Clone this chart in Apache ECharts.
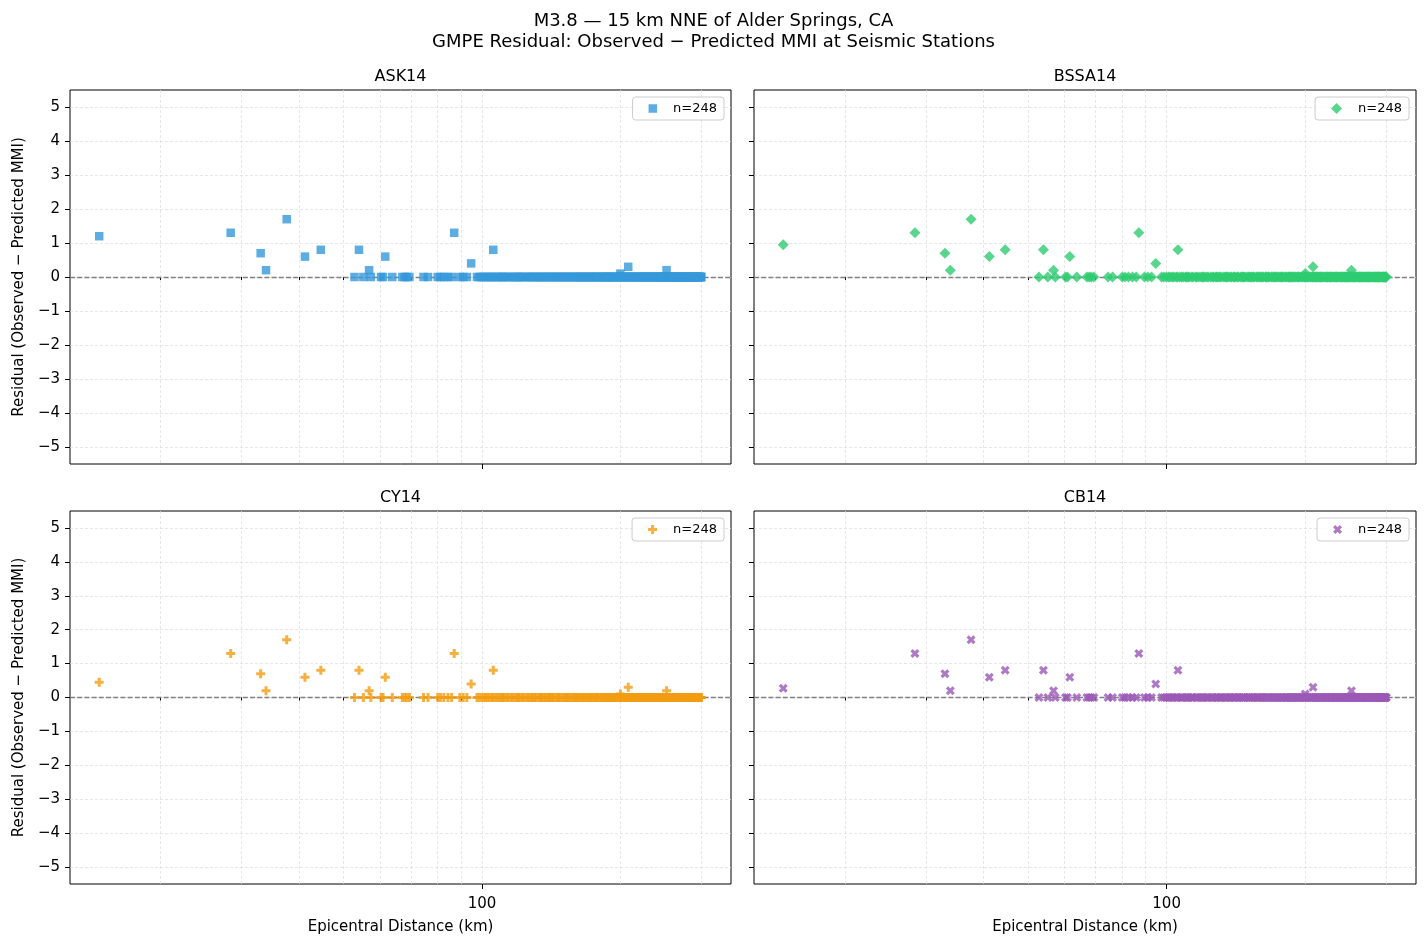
<!DOCTYPE html>
<html>
<head>
<meta charset="utf-8">
<title>GMPE Residuals</title>
<script src="https://cdn.jsdelivr.net/npm/echarts@6/dist/echarts.min.js"></script>
<style>
  html, body { margin: 0; padding: 0; background: #fff; }
  #chart { width: 1427px; height: 947px; }
</style>
</head>
<body>
<div id="chart"></div>
<script>
// panels, in reading order
var models = ['ASK14', 'BSSA14', 'CY14', 'CB14'];
var colors = ['#3498db', '#2ecc71', '#f39c12', '#9b59b6'];

// stations with a non-zero residual: epicentral distance (km)
var outlierDist = [14.7, 28.4, 33.0, 33.9, 37.6, 41.2, 44.6, 54.0, 56.8, 61.6, 87.0, 94.7, 105.8, 200.0, 208.0, 252.0];
// residual (observed - predicted MMI) at those stations, per model
var askResid  = [1.2, 1.3, 0.7, 0.2, 1.7, 0.6, 0.8, 0.8, 0.2, 0.6, 1.3, 0.4, 0.8, 0.1, 0.3, 0.2];
var bssaResid = [0.95, 1.3, 0.7, 0.2, 1.7, 0.6, 0.8, 0.8, 0.2, 0.6, 1.3, 0.4, 0.8, 0.1, 0.3, 0.2];
var cyResid   = [0.45, 1.3, 0.7, 0.2, 1.7, 0.6, 0.8, 0.8, 0.2, 0.6, 1.3, 0.4, 0.8, 0.1, 0.3, 0.2];
var cbResid   = [0.27, 1.3, 0.7, 0.2, 1.7, 0.6, 0.8, 0.8, 0.2, 0.6, 1.3, 0.4, 0.8, 0.1, 0.3, 0.2];

// stations where observed == predicted (residual 0), distance (km)
var zeroDist = [
  52.8, 55.2, 57.3, 60.3, 60.9, 63.8, 67.1, 67.9, 68.6, 69.5,
  74.6, 76.3, 80.1, 81.2, 82.6, 84.3, 85.9, 89.5, 91.0, 92.7,
  97.5, 98.6, 99.8, 100.9, 101.7, 102.8, 103.6, 104.9, 105.5, 106.7,
  107.8, 108.6, 109.9, 111.2, 112.0, 113.4, 114.1, 115.6, 116.3, 117.5,
  118.8, 119.6, 121.0, 122.3, 123.1, 124.6, 125.8, 126.5, 127.9, 129.2,
  130.4, 131.1, 132.7, 133.9, 134.6, 136.2, 137.5, 138.3, 139.8, 141.0,
  142.4, 143.1, 144.7, 145.9, 147.2, 148.0, 149.6, 150.8, 151.5, 153.1,
  154.4, 155.2, 156.9, 157.6, 158.8, 160.3, 161.5, 162.2, 163.9, 165.1,
  166.4, 167.0, 168.7, 169.5, 170.8, 172.3, 173.1, 174.6, 175.4, 176.9,
  178.2, 179.0, 180.5, 181.7, 182.4, 183.9, 185.2, 186.0, 187.6, 188.3,
  189.8, 190.5, 191.9, 193.2, 194.0, 195.6, 196.3, 197.8, 198.9, 199.7,
  201.2, 202.5, 203.3, 204.8, 205.6, 206.9, 208.1, 209.4, 210.2, 211.7,
  212.5, 213.8, 214.9, 216.3, 217.0, 218.6, 219.4, 220.7, 221.9, 222.6,
  224.0, 225.3, 226.1, 227.6, 228.4, 229.7, 230.9, 231.5, 232.8, 234.2,
  235.0, 236.4, 237.7, 238.5, 239.8, 241.2, 242.0, 243.5, 244.3, 245.8,
  246.6, 247.9, 249.1, 250.4, 251.2, 252.7, 253.5, 254.8, 256.1, 256.9,
  258.3, 259.0, 260.6, 261.4, 262.7, 263.9, 264.8, 266.1, 267.0, 268.4,
  269.2, 270.7, 271.5, 272.9, 273.6, 275.0, 275.8, 277.3, 278.1, 279.5,
  280.4, 281.6, 282.9, 283.7, 285.1, 285.9, 287.2, 288.0, 289.5, 290.3,
  291.6, 292.4, 293.8, 294.5, 295.9, 296.6, 297.8, 298.5, 299.4, 300.0,
  110.4, 120.2, 128.6, 135.1, 146.3, 152.7, 159.9, 164.5, 171.6, 177.4,
  184.6, 192.7, 200.4, 207.5, 215.6, 223.2, 233.6, 240.3, 248.7, 255.5,
  265.2, 274.3, 284.2, 296.1, 140.2, 187.0, 226.8, 262.0, 288.6, 298.9,
  211.0, 244.9
];

// tick positions
var xMajorTicks = [100];
var xMinorTicks = [20, 30, 40, 50, 60, 70, 80, 90, 200, 300];
var yTicks = [-5, -4, -3, -2, -1, 0, 1, 2, 3, 4, 5];

var residuals = [askResid, bssaResid, cyResid, cbResid];
var symbols = [
  'rect',
  'diamond',
  'path://M1,0H2V1H3V2H2V3H1V2H0V1H1Z',
  'path://M3,0L4,1L3,2L4,3L3,4L2,3L1,4L0,3L1,2L0,1L1,0L2,1Z'
];
var symbolSizes = [8.5, 11, 9, 9];

var FONT = "'DejaVu Sans', sans-serif";
var gridStyle = { color: '#dcdcdc', width: 0.7, type: [3, 2] };
var boxes = [
  { left: 70, top: 90, width: 661, height: 374 },
  { left: 754, top: 90, width: 662, height: 374 },
  { left: 70, top: 511, width: 661, height: 373 },
  { left: 754, top: 511, width: 662, height: 373 }
];

function minus(v) {
  return v < 0 ? '\u2212' + (-v) : String(v);
}

var chart = echarts.init(document.getElementById('chart'));

var grid = [], xAxis = [], yAxis = [], series = [], legend = [], graphic = [];

models.forEach(function (name, i) {
  var isBottom = i >= 2;
  var isLeft = i % 2 === 0;
  var b = boxes[i];

  grid.push({
    left: b.left, top: b.top, width: b.width, height: b.height,
    show: true, borderColor: '#000', borderWidth: 1,
    backgroundColor: 'transparent',
    containLabel: false, outerBoundsMode: 'none'
  });

  // minor ticks + minor grid lines
  xAxis.push({
    type: 'log', logBase: 10, gridIndex: i, position: 'bottom', min: 12.7, max: 348,
    axisLine: { show: false },
    axisTick: { show: true, customValues: xMinorTicks, length: 3, lineStyle: { color: '#000', width: 1 } },
    axisLabel: { show: false },
    splitLine: { show: true, lineStyle: gridStyle }
  });
  // major tick (100) + label
  xAxis.push({
    type: 'log', logBase: 10, gridIndex: i, position: 'bottom', min: 12.7, max: 348,
    axisLine: { show: false },
    axisTick: { show: true, customValues: xMajorTicks, length: 5, lineStyle: { color: '#000', width: 1 } },
    axisLabel: {
      show: isBottom, customValues: xMajorTicks, margin: 13,
      color: '#000', fontSize: 15, fontFamily: FONT
    },
    splitLine: { show: true, lineStyle: gridStyle },
    name: isBottom ? 'Epicentral Distance (km)' : '',
    nameLocation: 'middle', nameGap: 36,
    nameTextStyle: { color: '#000', fontSize: 15, fontFamily: FONT }
  });

  yAxis.push({
    type: 'value', gridIndex: i, position: 'left', min: -5.5, max: 5.5,
    axisLine: { show: false },
    axisTick: { show: true, customValues: yTicks, length: 5, lineStyle: { color: '#000', width: 1 } },
    axisLabel: {
      show: isLeft, customValues: yTicks, margin: 10, formatter: minus,
      color: '#000', fontSize: 15, fontFamily: FONT
    },
    splitLine: { show: true, lineStyle: gridStyle },
    name: isLeft ? 'Residual (Observed \u2212 Predicted MMI)' : '',
    nameLocation: 'middle', nameGap: 43,
    nameTextStyle: { color: '#000', fontSize: 15, fontFamily: FONT }
  });

  var data = outlierDist.map(function (d, k) { return [d, residuals[i][k]]; })
    .concat(zeroDist.map(function (d) { return [d, 0]; }));

  series.push({
    name: name,
    type: 'scatter',
    xAxisIndex: 2 * i,
    yAxisIndex: i,
    symbol: symbols[i],
    symbolSize: symbolSizes[i],
    itemStyle: { color: colors[i], opacity: 0.8 },
    z: 3,
    data: data,
    markLine: {
      silent: true, symbol: 'none', z: 1,
      label: { show: false },
      lineStyle: { color: '#808080', width: 1.3, type: [5, 2.2] },
      data: [{ yAxis: 0 }]
    }
  });

  legend.push({
    data: [{ name: name, icon: symbols[i] }],
    formatter: 'n=' + data.length,
    selectedMode: false,
    orient: 'horizontal',
    right: 1427 - (b.left + b.width - 7),
    top: b.top + 7,
    itemWidth: symbolSizes[i], itemHeight: symbolSizes[i],
    padding: [5, 7, 5, 16],
    backgroundColor: 'rgba(255,255,255,0.8)',
    borderColor: '#cccccc', borderWidth: 1, borderRadius: 3,
    textStyle: { color: '#000', fontSize: 13, fontFamily: FONT, padding: [0, 0, 0, 11] }
  });

  graphic.push({
    type: 'text',
    x: b.left + b.width / 2,
    y: b.top - 13,
    style: {
      text: name, fill: '#000', fontSize: 16, fontFamily: FONT,
      textAlign: 'center', textVerticalAlign: 'middle', verticalAlign: 'middle'
    }
  });
});

chart.setOption({
  animation: false,
  backgroundColor: '#fff',
  textStyle: { fontFamily: FONT },
  title: {
    text: 'M3.8 \u2014 15 km NNE of Alder Springs, CA\nGMPE Residual: Observed \u2212 Predicted MMI at Seismic Stations',
    left: 'center', top: 11, padding: 0,
    textStyle: { color: '#000', fontSize: 18, fontWeight: 'normal', fontFamily: FONT, lineHeight: 21 }
  },
  grid: grid,
  xAxis: xAxis,
  yAxis: yAxis,
  legend: legend,
  graphic: graphic,
  series: series
});
</script>
</body>
</html>
